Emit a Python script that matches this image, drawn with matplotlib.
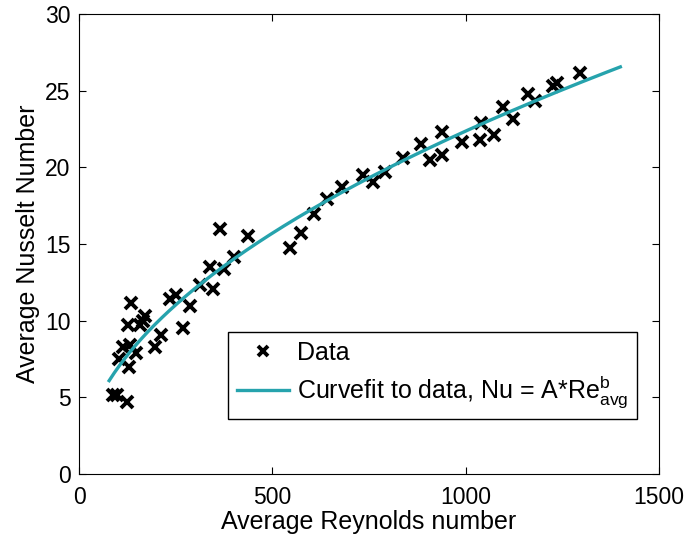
import numpy as np
import matplotlib
matplotlib.use("Agg")
import matplotlib.pyplot as plt

plt.rcParams['font.family'] = ['Liberation Sans', 'DejaVu Sans']
plt.rcParams['mathtext.fontset'] = 'custom'
plt.rcParams['mathtext.rm'] = 'Liberation Sans'

# measured data points (Re_avg, Nu_avg)
re_data = [88.7, 99.0, 123.4, 104.2, 130.1, 114.6, 131.9, 147.4, 196.5, 211.3,
           127.5, 157.7, 165.0, 170.7, 133.7, 269.7, 287.0, 235.3, 250.8, 312.9,
           345.7, 338.8, 375.0, 401.6, 364.6, 437.8,
           545.6, 573.3, 607.7, 642.2, 679.3, 733.6, 759.4, 791.3, 838.7, 883.6,
           907.7, 938.0, 938.0, 989.7, 1037.0, 1038.8, 1073.2, 1095.6, 1121.5,
           1162.0, 1179.2, 1226.6, 1236.9, 1295.6]
nu_data = [5.15, 5.15, 4.72, 7.48, 7.00, 8.30, 8.41, 7.91, 8.30, 9.05,
           9.72, 9.72, 9.95, 10.30, 11.13, 9.50, 10.96, 11.39, 11.67, 12.33,
           12.07, 13.48, 13.35, 14.13, 15.96, 15.52,
           14.72, 15.74, 16.94, 17.91, 18.74, 19.50, 19.02, 19.67, 20.59, 21.50,
           20.48, 20.80, 22.33, 21.67, 21.78, 22.91, 22.11, 23.91, 23.15,
           24.76, 24.33, 25.30, 25.52, 26.13]

# fitted curve Nu = A * Re^b
A = 0.66
b = 0.51
re_min, re_max = 78, 1400

re_fit = np.linspace(re_min, re_max, 300)
nu_fit = A * re_fit ** b

fig = plt.figure(figsize=(6.88, 5.37), dpi=100)
ax = fig.add_axes([79/688, 1 - 474/537, 580/688, 460/537])

ax.plot(re_data, nu_data, 'x', color='black', markersize=8, markeredgewidth=2.8,
        label='Data')
ax.plot(re_fit, nu_fit, '-', color='#26a3ad', linewidth=2.4,
        label=r'Curvefit to data, Nu = A*Re$_{\mathrm{avg}}^{\mathrm{b}}$')

ax.set_xlim(0, 1500)
ax.set_ylim(0, 30)
ax.set_xticks([0, 500, 1000, 1500])
ax.set_yticks([0, 5, 10, 15, 20, 25, 30])
ax.tick_params(direction='in', top=True, right=True, labelsize=16.5, length=5)
ax.tick_params(axis='x', pad=9)
ax.tick_params(axis='y', pad=6)
ax.set_xlabel('Average Reynolds number', fontsize=18, labelpad=0)
ax.set_ylabel('Average Nusselt Number', fontsize=18, labelpad=4)

leg = ax.legend(loc='lower right', bbox_to_anchor=(637/688, 1 - 419/537),
                bbox_transform=fig.transFigure, fontsize=18, fancybox=False,
                edgecolor='black', framealpha=1, handlelength=2.1,
                handletextpad=0.3, borderpad=0.35, borderaxespad=0,
                labelspacing=0.35, markerscale=0.85)
leg.get_frame().set_linewidth(1.0)

fig.savefig('out.png', dpi=100)
